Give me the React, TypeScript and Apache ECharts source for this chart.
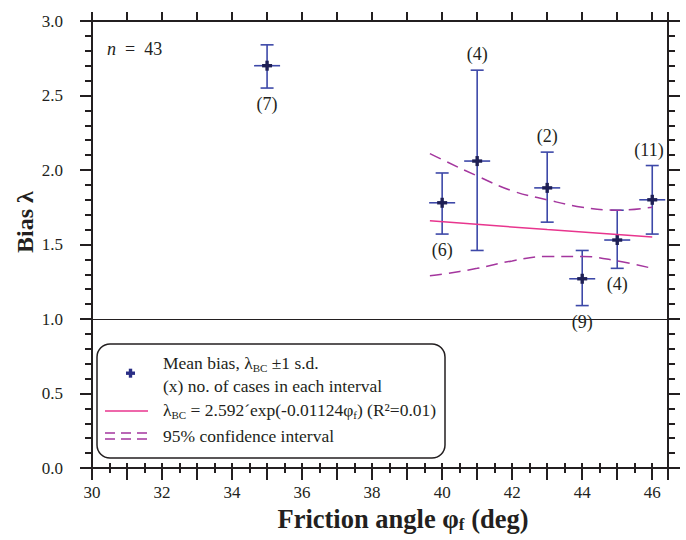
import React, { useEffect, useRef } from 'react';
import * as echarts from 'echarts';

// ---- data ----
const angles = [35, 40, 41, 43, 44, 45, 46];
const meanBias = [2.70, 1.78, 2.06, 1.88, 1.27, 1.53, 1.80];
const sdUpper = [2.84, 1.98, 2.67, 2.12, 1.46, 1.73, 2.03];
const sdLower = [2.55, 1.57, 1.46, 1.65, 1.09, 1.34, 1.57];
const caseCounts = [7, 6, 4, 2, 9, 4, 11];
const countAbove = [false, false, true, true, false, false, true];

const fitAngles = [39.65, 43, 46];
const fitBias = [1.66, 1.60, 1.55];

const ciAngles = [39.65, 40, 41, 42, 43, 44, 45, 46];
const ciUpper = [2.11, 2.07, 1.96, 1.86, 1.80, 1.75, 1.73, 1.75];
const ciLower = [1.29, 1.30, 1.34, 1.39, 1.42, 1.42, 1.39, 1.34];

const referenceBias = 1.0;
const xMin = 30;
const xMax = 46.45;
const yMin = 0;
const yMax = 3;

const FONT = '"Liberation Serif", "Times New Roman", serif';
const INK = '#231f20';
const BAR_BLUE = '#3d48a8';
const MARK_NAVY = '#1e1f55';
const FIT_PINK = '#e8358e';
const CI_PURPLE = '#a4369e';
const LEG = 17.5;

function txt(x: number, y: number, text: string, extra: any = {}, align = 'left') {
  return {
    type: 'text',
    x,
    y,
    silent: true,
    style: {
      text,
      fontFamily: FONT,
      fontSize: LEG,
      fill: INK,
      align,
      textAlign: align,
      verticalAlign: 'middle',
      textVerticalAlign: 'middle',
      ...extra,
    },
  };
}

export default function App() {
  const ref = useRef<HTMLDivElement>(null);
  useEffect(() => {
    if (!ref.current) return;
    const chart = echarts.init(ref.current, undefined, { renderer: 'svg' });

    const barData = angles.map((a, i) => [a, meanBias[i], sdUpper[i], sdLower[i], caseCounts[i], countAbove[i] ? 1 : 0]);

    const axisLineStyle = { color: INK, width: 2 };
    const baseX = {
      type: 'value',
      min: xMin,
      max: xMax,
      splitLine: { show: false },
      axisLine: { show: true, onZero: false, lineStyle: axisLineStyle },
    };
    const baseY = {
      type: 'value',
      min: yMin,
      max: yMax,
      interval: 0.5,
      splitLine: { show: false },
      axisLine: { show: true, onZero: false, lineStyle: axisLineStyle },
      minorTick: { show: true, splitNumber: 5, length: 7, lineStyle: { color: INK, width: 2 } },
      axisTick: { show: true, length: 12, lineStyle: { color: INK, width: 2 } },
    };

    const legendRich = {
      m: { fontFamily: FONT, fontSize: LEG, fill: INK, color: INK, lineHeight: 20 },
      s: { fontFamily: FONT, fontSize: 11, fill: INK, color: INK, lineHeight: 12, verticalAlign: 'bottom' },
    };

    const option: any = {
      animation: false,
      grid: { left: 92, top: 21, right: 18, bottom: 72, containLabel: false },
      xAxis: [
        {
          ...baseX,
          position: 'bottom',
          interval: 1,
          axisTick: { show: true, length: 12, lineStyle: { color: INK, width: 2 } },
          axisLabel: {
            show: true,
            margin: 16,
            fontFamily: FONT,
            fontSize: 17,
            color: INK,
            formatter: (v: number) => (Math.abs(v - Math.round(v)) < 1e-6 && Math.round(v) % 2 === 0 ? String(Math.round(v)) : ''),
          },
        },
        {
          ...baseX,
          position: 'bottom',
          interval: 0.5,
          axisLine: { show: false },
          axisTick: { show: true, length: 5, lineStyle: { color: INK, width: 2 } },
          axisLabel: { show: false },
        },
        {
          ...baseX,
          position: 'top',
          interval: 1,
          axisTick: { show: true, length: 9, lineStyle: { color: INK, width: 2 } },
          axisLabel: { show: false },
        },
        {
          ...baseX,
          position: 'top',
          interval: 0.5,
          axisLine: { show: false },
          axisTick: { show: true, length: 5, lineStyle: { color: INK, width: 2 } },
          axisLabel: { show: false },
        },
      ],
      yAxis: [
        {
          ...baseY,
          position: 'left',
          axisLabel: {
            show: true,
            margin: 29,
            fontFamily: FONT,
            fontSize: 17,
            color: INK,
            formatter: (v: number) => v.toFixed(1),
          },
        },
        {
          ...baseY,
          position: 'right',
          axisLabel: { show: false },
        },
      ],
      series: [
        {
          type: 'line',
          xAxisIndex: 0,
          yAxisIndex: 0,
          data: ciAngles.map((a, i) => [a, ciUpper[i]]),
          showSymbol: false,
          symbol: 'none',
          smooth: 0.4,
          lineStyle: { color: CI_PURPLE, width: 1.5, type: [12, 7] },
          silent: true,
          markLine: {
            silent: true,
            symbol: 'none',
            label: { show: false },
            lineStyle: { color: INK, width: 1, type: 'solid' },
            data: [{ yAxis: referenceBias }],
          },
        },
        {
          type: 'line',
          xAxisIndex: 0,
          yAxisIndex: 0,
          data: ciAngles.map((a, i) => [a, ciLower[i]]),
          showSymbol: false,
          symbol: 'none',
          smooth: 0.4,
          lineStyle: { color: CI_PURPLE, width: 1.5, type: [12, 7] },
          silent: true,
        },
        {
          type: 'line',
          xAxisIndex: 0,
          yAxisIndex: 0,
          data: fitAngles.map((a, i) => [a, fitBias[i]]),
          showSymbol: false,
          symbol: 'none',
          smooth: 0.3,
          lineStyle: { color: FIT_PINK, width: 1.5 },
          silent: true,
        },
        {
          type: 'custom',
          xAxisIndex: 0,
          yAxisIndex: 0,
          data: barData,
          encode: { x: 0, y: [1, 2, 3] },
          silent: true,
          renderItem: (params: any, api: any) => {
            const x = api.value(0);
            const m = api.value(1);
            const up = api.value(2);
            const lo = api.value(3);
            const n = api.value(4);
            const above = api.value(5) === 1;
            const pm = api.coord([x, m]);
            const pu = api.coord([x, up]);
            const pl = api.coord([x, lo]);
            const cs = params.coordSys;
            const cx = pm[0];
            const lw = 1.6;
            const capHalf = 6.5;
            const meanHalf = 13;
            const labelText = `(${n})`;
            const labelHalf = labelText.length * 4.5;
            let lx = cx;
            const rightLimit = cs.x + cs.width - 1;
            if (lx + labelHalf > rightLimit) lx = rightLimit - labelHalf;
            const ly = above ? pu[1] - 16 : pl[1] + 16;
            return {
              type: 'group',
              children: [
                { type: 'line', shape: { x1: cx, y1: pu[1], x2: cx, y2: pl[1] }, style: { stroke: BAR_BLUE, lineWidth: lw } },
                { type: 'line', shape: { x1: cx - capHalf, y1: pu[1], x2: cx + capHalf, y2: pu[1] }, style: { stroke: BAR_BLUE, lineWidth: lw } },
                { type: 'line', shape: { x1: cx - capHalf, y1: pl[1], x2: cx + capHalf, y2: pl[1] }, style: { stroke: BAR_BLUE, lineWidth: lw } },
                { type: 'line', shape: { x1: cx - meanHalf, y1: pm[1], x2: cx + meanHalf, y2: pm[1] }, style: { stroke: BAR_BLUE, lineWidth: lw } },
                { type: 'rect', shape: { x: cx - 5, y: pm[1] - 1.7, width: 10, height: 3.4 }, style: { fill: MARK_NAVY } },
                { type: 'rect', shape: { x: cx - 1.7, y: pm[1] - 5, width: 3.4, height: 10 }, style: { fill: MARK_NAVY } },
                {
                  type: 'text',
                  x: lx,
                  y: ly,
                  style: {
                    text: labelText,
                    fontFamily: FONT,
                    fontSize: 18,
                    fill: INK,
                    align: 'center',
                    textAlign: 'center',
                    verticalAlign: 'middle',
                    textVerticalAlign: 'middle',
                  },
                },
              ],
            };
          },
        },
      ],
      graphic: [
        // n = 43
        txt(107, 49, '{i|n}{r|\u2002=\u200243}', {
          rich: {
            i: { fontFamily: FONT, fontSize: 18, fontStyle: 'italic', fill: INK, color: INK },
            r: { fontFamily: FONT, fontSize: 18, fill: INK, color: INK },
          },
        }),
        // y-axis title
        {
          type: 'text',
          x: 25,
          y: 222,
          rotation: Math.PI / 2,
          silent: true,
          style: {
            text: 'Bias λ',
            fontFamily: FONT,
            fontSize: 24,
            fontWeight: 'bold',
            fill: INK,
            align: 'center',
            textAlign: 'center',
            verticalAlign: 'middle',
            textVerticalAlign: 'middle',
          },
        },
        // x-axis title
        txt(403, 519, '{b|Friction angle φ}{s|f}{b| (deg)}', {
          rich: {
            b: { fontFamily: FONT, fontSize: 26.5, fontWeight: 'bold', fill: INK, color: INK, lineHeight: 28 },
            s: { fontFamily: FONT, fontSize: 17, fontWeight: 'bold', fill: INK, color: INK, lineHeight: 14, verticalAlign: 'bottom' },
          },
        }, 'center'),
        // legend
        {
          type: 'group',
          silent: true,
          children: [
            {
              type: 'rect',
              shape: { x: 97, y: 344, width: 348, height: 114, r: 13 },
              style: { fill: '#ffffff', stroke: INK, lineWidth: 1.5 },
            },
            { type: 'rect', shape: { x: 126, y: 371.5, width: 9, height: 3.4 }, style: { fill: '#2a2e85' } },
            { type: 'rect', shape: { x: 128.8, y: 368.7, width: 3.4, height: 9 }, style: { fill: '#2a2e85' } },
            txt(163, 363, '{m|Mean bias, λ}{s|BC}{m| ±1 s.d.}', { rich: legendRich }),
            txt(163, 386, '{m|(x) no. of cases in each interval}', { rich: legendRich }),
            { type: 'line', shape: { x1: 105, y1: 411, x2: 148, y2: 411 }, style: { stroke: FIT_PINK, lineWidth: 1.5 } },
            txt(163, 410, '{m|λ}{s|BC}{m| = 2.592´exp(-0.01124φ}{s|f}{m|) (R²=0.01)}', { rich: legendRich }),
            { type: 'line', shape: { x1: 105, y1: 433, x2: 149, y2: 433 }, style: { stroke: CI_PURPLE, lineWidth: 1.5, lineDash: [10, 6] } },
            { type: 'line', shape: { x1: 105, y1: 439, x2: 149, y2: 439 }, style: { stroke: CI_PURPLE, lineWidth: 1.5, lineDash: [10, 6] } },
            txt(163, 436, '{m|95% confidence interval}', { rich: legendRich }),
          ],
        },
      ],
    };

    chart.setOption(option);
    return () => chart.dispose();
  }, []);

  return (
    <div
      ref={ref}
      style={{ position: 'fixed', left: 0, top: 0, width: 686, height: 540, background: '#ffffff' }}
    />
  );
}
